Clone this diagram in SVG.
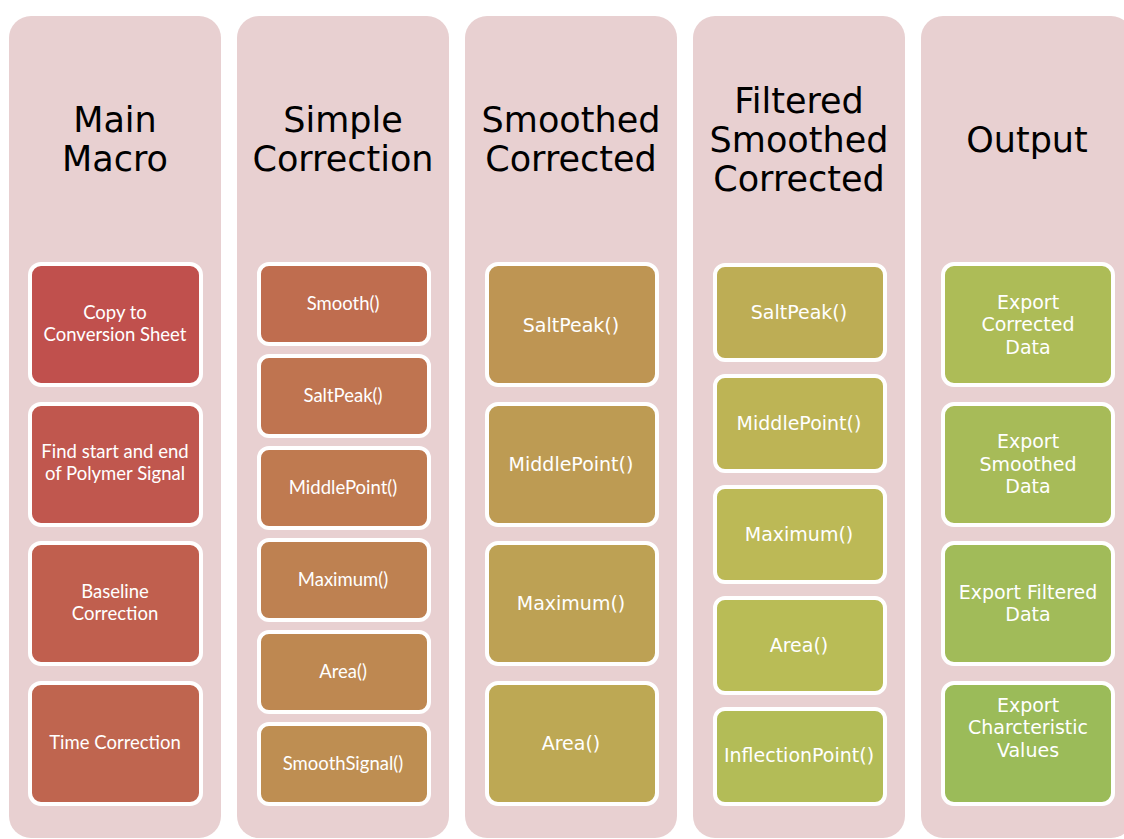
<svg xmlns="http://www.w3.org/2000/svg" width="1124" height="839" viewBox="0 0 1124 839">
  <style>
    .col { fill: #E8D0D1; }
    .head { font-family: "DejaVu Sans", "Liberation Sans", sans-serif; font-size: 35px; fill: #000; text-anchor: middle; }
    .box { stroke: #FFFFFF; stroke-width: 4; }
    .lbl { font-family: Lato, "Liberation Sans", sans-serif; font-size: 18.5px; fill: #FFFFFF; text-anchor: middle; }
    .lbl2 { font-family: "DejaVu Sans", "Liberation Sans", sans-serif; font-size: 19px; fill: #FFFFFF; text-anchor: middle; }
  </style>
  <rect width="1124" height="839" fill="#FFFFFF"/>

  <!-- Column backgrounds and headers -->
  <g id="col-main">
    <rect class="col" x="9" y="16" width="212" height="822" rx="22"/>
    <text class="head" x="115" y="132">Main</text>
    <text class="head" x="115" y="171">Macro</text>
  </g>
  <g id="col-simple">
    <rect class="col" x="237" y="16" width="212" height="822" rx="22"/>
    <text class="head" x="343" y="132">Simple</text>
    <text class="head" x="343" y="171">Correction</text>
  </g>
  <g id="col-smoothed">
    <rect class="col" x="465" y="16" width="212" height="822" rx="22"/>
    <text class="head" x="571" y="132">Smoothed</text>
    <text class="head" x="571" y="171">Corrected</text>
  </g>
  <g id="col-filtered">
    <rect class="col" x="693" y="16" width="212" height="822" rx="22"/>
    <text class="head" x="799" y="113">Filtered</text>
    <text class="head" x="799" y="152">Smoothed</text>
    <text class="head" x="799" y="191">Corrected</text>
  </g>
  <g id="col-output">
    <rect class="col" x="921" y="16" width="212" height="822" rx="22"/>
    <text class="head" x="1027" y="152">Output</text>
  </g>

  <!-- Main Macro steps -->
  <g id="main-copy">
    <rect class="box" x="30" y="264" width="171" height="121" rx="11" fill="hsl(1.6,47.7%,52.7%)"/>
    <text class="lbl" x="115" y="319">Copy to</text>
    <text class="lbl" x="115" y="341">Conversion Sheet</text>
  </g>
  <g id="main-find">
    <rect class="box" x="30" y="404" width="171" height="121" rx="11" fill="hsl(5.1,47.4%,52.8%)"/>
    <text class="lbl" x="115" y="458">Find start and end</text>
    <text class="lbl" x="115" y="480">of Polymer Signal</text>
  </g>
  <g id="main-baseline">
    <rect class="box" x="30" y="543" width="171" height="121" rx="11" fill="hsl(8.7,47.2%,52.9%)"/>
    <text class="lbl" x="115" y="598">Baseline</text>
    <text class="lbl" x="115" y="620">Correction</text>
  </g>
  <g id="main-time">
    <rect class="box" x="30" y="683" width="171" height="121" rx="11" fill="hsl(12.2,46.9%,52.9%)"/>
    <text class="lbl" x="115" y="749">Time Correction</text>
  </g>

  <!-- Simple Correction steps -->
  <g id="simple-smooth">
    <rect class="box" x="259" y="264" width="170" height="80" rx="10" fill="hsl(15.8,46.6%,53%)"/>
    <text class="lbl" x="343" y="310">Smooth()</text>
  </g>
  <g id="simple-saltpeak">
    <rect class="box" x="259" y="356" width="170" height="80" rx="10" fill="hsl(19.3,46.4%,53.1%)"/>
    <text class="lbl" x="343" y="402">SaltPeak()</text>
  </g>
  <g id="simple-middlepoint">
    <rect class="box" x="259" y="448" width="170" height="80" rx="10" fill="hsl(22.8,46.1%,53.1%)"/>
    <text class="lbl" x="343" y="494">MiddlePoint()</text>
  </g>
  <g id="simple-maximum">
    <rect class="box" x="259" y="540" width="170" height="80" rx="10" fill="hsl(26.4,45.9%,53.2%)"/>
    <text class="lbl" x="343" y="586">Maximum()</text>
  </g>
  <g id="simple-area">
    <rect class="box" x="259" y="632" width="170" height="80" rx="10" fill="hsl(30,45.6%,53.2%)"/>
    <text class="lbl" x="343" y="678">Area()</text>
  </g>
  <g id="simple-smoothsignal">
    <rect class="box" x="259" y="724" width="170" height="80" rx="10" fill="hsl(33.5,45.3%,53.3%)"/>
    <text class="lbl" x="343" y="770">SmoothSignal()</text>
  </g>

  <!-- Smoothed Corrected steps -->
  <g id="smoothed-saltpeak">
    <rect class="box" x="487" y="264" width="170" height="121" rx="11" fill="hsl(37,45.1%,53.4%)"/>
    <text class="lbl2" x="571" y="332">SaltPeak()</text>
  </g>
  <g id="smoothed-middlepoint">
    <rect class="box" x="487" y="404" width="170" height="121" rx="11" fill="hsl(40.6,44.8%,53.4%)"/>
    <text class="lbl2" x="571" y="471">MiddlePoint()</text>
  </g>
  <g id="smoothed-maximum">
    <rect class="box" x="487" y="543" width="170" height="121" rx="11" fill="hsl(44.1,44.5%,53.5%)"/>
    <text class="lbl2" x="571" y="610">Maximum()</text>
  </g>
  <g id="smoothed-area">
    <rect class="box" x="487" y="683" width="170" height="121" rx="11" fill="hsl(47.7,44.3%,53.6%)"/>
    <text class="lbl2" x="571" y="750">Area()</text>
  </g>

  <!-- Filtered Smoothed Corrected steps -->
  <g id="filtered-saltpeak">
    <rect class="box" x="715" y="265" width="170" height="95" rx="10" fill="hsl(51.2,44%,53.6%)"/>
    <text class="lbl2" x="799" y="319">SaltPeak()</text>
  </g>
  <g id="filtered-middlepoint">
    <rect class="box" x="715" y="376" width="170" height="95" rx="10" fill="hsl(54.8,43.7%,53.7%)"/>
    <text class="lbl2" x="799" y="430">MiddlePoint()</text>
  </g>
  <g id="filtered-maximum">
    <rect class="box" x="715" y="487" width="170" height="95" rx="10" fill="hsl(58.3,43.5%,53.7%)"/>
    <text class="lbl2" x="799" y="541">Maximum()</text>
  </g>
  <g id="filtered-area">
    <rect class="box" x="715" y="598" width="170" height="95" rx="10" fill="hsl(61.9,43.2%,53.8%)"/>
    <text class="lbl2" x="799" y="652">Area()</text>
  </g>
  <g id="filtered-inflection">
    <rect class="box" x="715" y="709" width="170" height="95" rx="10" fill="hsl(65.4,42.9%,53.9%)"/>
    <text class="lbl2" x="799" y="762">InflectionPoint()</text>
  </g>

  <!-- Output steps -->
  <g id="out-corrected">
    <rect class="box" x="943" y="264" width="170" height="121" rx="11" fill="hsl(69,42.7%,53.9%)"/>
    <text class="lbl2" x="1028" y="309">Export</text>
    <text class="lbl2" x="1028" y="331">Corrected</text>
    <text class="lbl2" x="1028" y="354">Data</text>
  </g>
  <g id="out-smoothed">
    <rect class="box" x="943" y="404" width="170" height="121" rx="11" fill="hsl(72.5,42.4%,54%)"/>
    <text class="lbl2" x="1028" y="448">Export</text>
    <text class="lbl2" x="1028" y="471">Smoothed</text>
    <text class="lbl2" x="1028" y="493">Data</text>
  </g>
  <g id="out-filtered">
    <rect class="box" x="943" y="543" width="170" height="121" rx="11" fill="hsl(76,42.1%,54.1%)"/>
    <text class="lbl2" x="1028" y="599">Export Filtered</text>
    <text class="lbl2" x="1028" y="621">Data</text>
  </g>
  <g id="out-characteristic">
    <rect class="box" x="943" y="683" width="170" height="121" rx="11" fill="hsl(79.6,41.9%,54.1%)"/>
    <text class="lbl2" x="1028" y="712">Export</text>
    <text class="lbl2" x="1028" y="734">Charcteristic</text>
    <text class="lbl2" x="1028" y="757">Values</text>
  </g>
</svg>
